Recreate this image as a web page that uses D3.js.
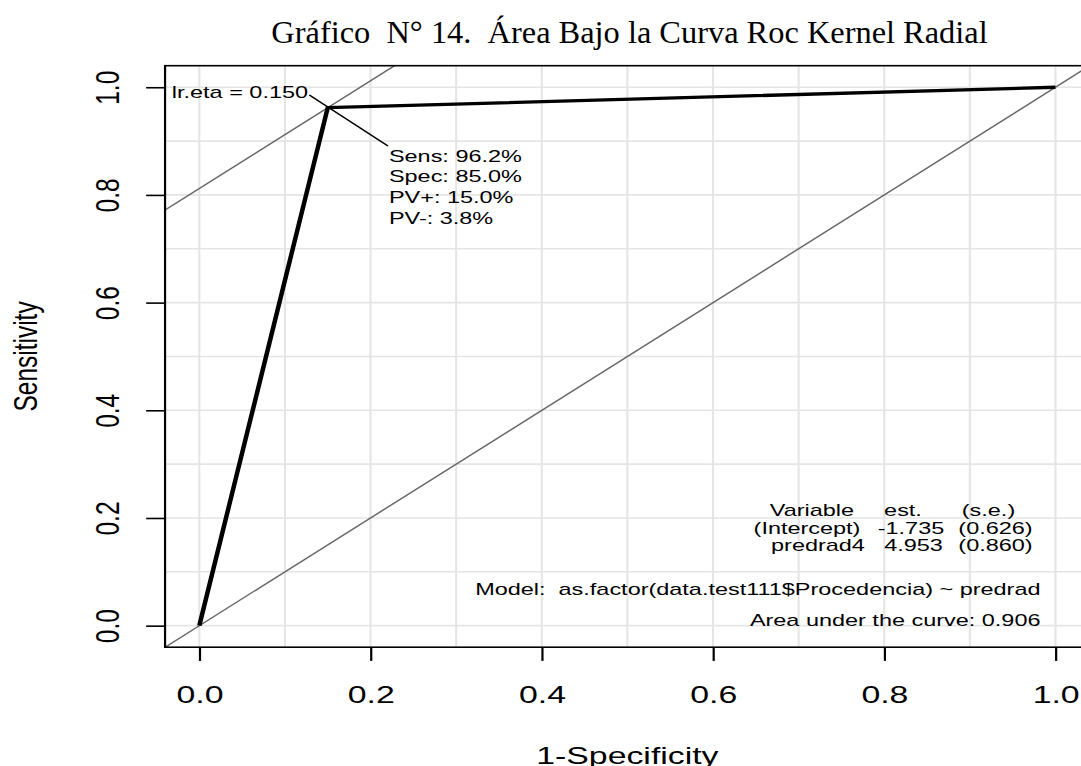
<!DOCTYPE html>
<html>
<head>
<meta charset="utf-8">
<script src="https://cdn.jsdelivr.net/npm/d3@7"></script>
<style>
  html, body { margin: 0; padding: 0; background: #ffffff; }
  svg { display: block; }
  text { font-family: "Liberation Sans", Arial, Helvetica, sans-serif; fill: #000; white-space: pre; }
  .title { font-family: "Liberation Serif", "Times New Roman", serif; }
</style>
</head>
<body>
<script>
// ROC curve for the radial-kernel model: (1 - specificity, sensitivity)
const rocFpr  = [0.000, 0.150, 1.000];
const rocSens = [0.000, 0.962, 1.000];

// optimal cut-off summary
const cutoffLabel = "lr.eta = 0.150";
const optSens = 0.962;
const optSpec = 0.850;
const statLines = ["Sens: 96.2%", "Spec: 85.0%", "PV+: 15.0%", "PV-: 3.8%"];

// logistic model coefficients
const coefHeader = ["Variable", "est.", "(s.e.)"];
const coefRows = [
  ["(Intercept)", "-1.735", "(0.626)"],
  ["predrad4", "4.953", "(0.860)"]
];
const modelText = "Model:  as.factor(data.test111$Procedencia) ~ predrad";
const aucText = "Area under the curve: 0.906";

// axes
const xTicks = [0.0, 0.2, 0.4, 0.6, 0.8, 1.0];
const yTicks = [0.0, 0.2, 0.4, 0.6, 0.8, 1.0];
const gridBreaks = [0.0, 0.1, 0.2, 0.3, 0.4, 0.5, 0.6, 0.7, 0.8, 0.9, 1.0];
const titleText = "Gráfico  N° 14.  Área Bajo la Curva Roc Kernel Radial";
const xLabel = "1-Specificity";
const yLabel = "Sensitivity";

const W = 1081, H = 766;
const SX = 1.38;            // horizontal stretch of the plotting device
const fmt = d3.format(".1f");

const svg = d3.select("body").append("svg")
  .attr("width", W).attr("height", H);
svg.append("rect").attr("width", W).attr("height", H).attr("fill", "#fff");

// title (not stretched)
svg.append("text").attr("class", "title")
  .attr("x", 629.5).attr("y", 43)
  .attr("text-anchor", "middle")
  .attr("font-size", 32.4)
  .attr("xml:space", "preserve")
  .text(titleText);

// everything else is drawn in device units and stretched horizontally
const g = svg.append("g").attr("transform", `scale(${SX},1)`);

const x = d3.scaleLinear().domain([-0.04, 1.04]).range([165.06 / SX, 1089.7 / SX]);
const y = d3.scaleLinear().domain([-0.04, 1.04]).range([647.2, 65.7]);

g.append("clipPath").attr("id", "plotclip")
  .append("rect")
  .attr("x", x(-0.04)).attr("y", y(1.04))
  .attr("width", x(1.04) - x(-0.04)).attr("height", y(-0.04) - y(1.04));

const plot = g.append("g").attr("clip-path", "url(#plotclip)");

// grid
plot.selectAll("line.gx").data(gridBreaks).join("line")
  .attr("x1", d => x(d)).attr("x2", d => x(d))
  .attr("y1", y(-0.04)).attr("y2", y(1.04))
  .attr("stroke", "#e5e5e5").attr("stroke-width", 1.5);
plot.selectAll("line.gy").data(gridBreaks).join("line")
  .attr("y1", d => y(d)).attr("y2", d => y(d))
  .attr("x1", x(-0.04)).attr("x2", x(1.04))
  .attr("stroke", "#e5e5e5").attr("stroke-width", 1.6);

// chance diagonal and iso-(sens+spec) line through the optimum
const refLine = (a) => [[-0.04, -0.04 + a], [1.04, 1.04 + a]];
const lineGen = d3.line().x(d => x(d[0])).y(d => y(d[1]));
plot.append("path").attr("d", lineGen(refLine(0)))
  .attr("fill", "none").attr("stroke", "#666666").attr("stroke-width", 1.3);
plot.append("path").attr("d", lineGen(refLine(optSens + optSpec - 1)))
  .attr("fill", "none").attr("stroke", "#666666").attr("stroke-width", 1.3);

// ROC curve
const roc = rocFpr.map((f, i) => [f, rocSens[i]]);
plot.append("path").attr("d", lineGen(roc))
  .attr("fill", "none").attr("stroke", "#000").attr("stroke-width", 3.3)
  .attr("stroke-linejoin", "round");

// frame
g.append("rect")
  .attr("x", x(-0.04)).attr("y", y(1.04))
  .attr("width", x(1.04) - x(-0.04)).attr("height", y(-0.04) - y(1.04))
  .attr("fill", "none").attr("stroke", "#000").attr("stroke-width", 1.6);

// axes
const tickLen = 13.7;
const xAxis = d3.axisBottom(x).tickValues(xTicks).tickFormat(fmt)
  .tickSize(tickLen).tickPadding(12);
const gx = g.append("g").attr("transform", `translate(0,${y(-0.04)})`).call(xAxis);
gx.select(".domain").remove();
gx.selectAll(".tick line").attr("stroke", "#000").attr("stroke-width", 1.6);
gx.selectAll(".tick text")
  .attr("font-size", 24.5).attr("font-family", "Liberation Sans, Arial, sans-serif")
  .attr("fill", "#000").attr("dy", null).attr("y", 55.5);

const yAxis = d3.axisLeft(y).tickValues(yTicks).tickFormat(fmt).tickSize(tickLen);
const gy = g.append("g").attr("transform", `translate(${x(-0.04)},0)`).call(yAxis);
gy.select(".domain").remove();
gy.selectAll(".tick line").attr("stroke", "#000").attr("stroke-width", 1.6);
gy.selectAll(".tick text")
  .attr("font-size", 24.5).attr("font-family", "Liberation Sans, Arial, sans-serif")
  .attr("fill", "#000")
  .attr("x", null).attr("dy", null)
  .attr("text-anchor", "middle")
  .attr("transform", `translate(${119 / SX - x(-0.04)},0) rotate(-90)`);

// axis titles
g.append("text")
  .attr("x", (x(-0.04) + x(1.04)) / 2).attr("y", 764)
  .attr("text-anchor", "middle").attr("font-size", 24.5)
  .text(xLabel);
g.append("text")
  .attr("transform", `translate(${37 / SX},${(y(-0.04) + y(1.04)) / 2}) rotate(-90)`)
  .attr("text-anchor", "middle").attr("font-size", 24.5)
  .text(yLabel);

// optimal cut-off annotation
const ox = 1 - optSpec, oy = optSens;
const small = 17;
g.append("line")
  .attr("x1", x(ox - 0.0215)).attr("y1", y(oy + 0.0235))
  .attr("x2", x(ox + 0.0704)).attr("y2", y(oy - 0.0712))
  .attr("stroke", "#000").attr("stroke-width", 1.3);
g.append("text")
  .attr("x", x(ox - 0.023)).attr("y", y(oy + 0.029) + 6)
  .attr("text-anchor", "end").attr("font-size", small)
  .text(cutoffLabel);
g.append("g").selectAll("text").data(statLines).join("text")
  .attr("x", x(ox + 0.0715))
  .attr("y", (d, i) => y(oy - 0.089) + 6 + i * 20.7)
  .attr("font-size", small)
  .text(d => d);

// coefficient table and model text
const colCenters = [[812, 903, 988.5], [807, 911, 995.5], [818, 913.5, 995.5]];
const tableRows = [coefHeader, ...coefRows];
const rowY = [510, 527.5, 545];
tableRows.forEach((row, r) => {
  row.forEach((cell, c) => {
    g.append("text")
      .attr("x", colCenters[r][c] / SX).attr("y", rowY[r] + 6)
      .attr("text-anchor", "middle").attr("font-size", small)
      .text(cell);
  });
});
g.append("text")
  .attr("x", 1040.5 / SX).attr("y", 589 + 6)
  .attr("text-anchor", "end").attr("font-size", small)
  .attr("xml:space", "preserve")
  .text(modelText);
g.append("text")
  .attr("x", 1040.5 / SX).attr("y", 620 + 6)
  .attr("text-anchor", "end").attr("font-size", small)
  .text(aucText);
</script>
</body>
</html>
